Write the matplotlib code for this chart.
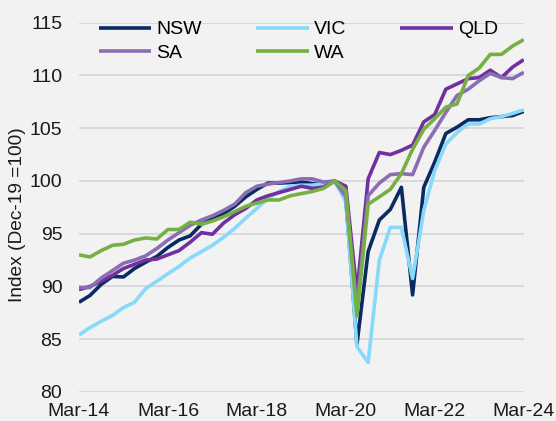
import pandas as pd
import matplotlib
matplotlib.use("Agg")
import matplotlib.pyplot as plt

plt.rcParams['font.family'] = ['Liberation Sans', 'DejaVu Sans']

# quarterly index, Dec-19 = 100
quarters = pd.date_range("2014-03-31", "2024-03-31", freq="QE")

nsw = [88.5, 89.15, 90.2, 90.95, 90.9, 91.7, 92.3, 92.85, 93.7, 94.4,
       94.8, 95.9, 96.4, 96.9, 97.6, 98.5, 99.2, 99.8, 99.8, 99.85,
       99.9, 99.75, 99.75, 100.0, 98.3, 84.5, 93.3, 96.3, 97.3, 99.4,
       89.2, 99.4, 101.8, 104.5, 105.1, 105.8, 105.8, 106.0, 106.1, 106.2,
       106.6]
vic = [85.4, 86.1, 86.7, 87.25, 88.0, 88.5, 89.8, 90.5, 91.2, 91.9,
       92.7, 93.3, 93.9, 94.65, 95.5, 96.5, 97.4, 98.35, 99.0, 99.5,
       99.6, 99.6, 99.8, 100.0, 98.0, 84.3, 82.8, 92.5, 95.6, 95.6,
       90.75, 97.2, 101.0, 103.5, 104.6, 105.4, 105.4, 105.9, 106.1, 106.4,
       106.75]
qld = [89.7, 90.0, 90.5, 91.05, 91.7, 92.1, 92.5, 92.6, 93.0, 93.4,
       94.2, 95.1, 94.95, 96.0, 96.8, 97.4, 98.2, 98.6, 98.9, 99.2,
       99.5, 99.3, 99.4, 100.0, 99.5, 89.4, 100.2, 102.7, 102.5, 102.9,
       103.4, 105.6, 106.3, 108.7, 109.2, 109.7, 109.8, 110.5, 109.8, 110.8,
       111.5]
sa = [89.9, 89.9, 90.8, 91.5, 92.2, 92.5, 92.9, 93.6, 94.4, 95.1,
      95.8, 96.3, 96.7, 97.2, 97.8, 98.9, 99.5, 99.7, 99.85, 100.0,
      100.2, 100.2, 99.9, 100.0, 98.5, 88.0, 98.6, 99.8, 100.6, 100.7,
      100.6, 103.2, 104.8, 106.5, 108.1, 108.7, 109.5, 110.2, 109.8, 109.7,
      110.3]
wa = [93.0, 92.8, 93.4, 93.9, 94.0, 94.4, 94.6, 94.5, 95.4, 95.4,
      96.1, 95.9, 96.2, 96.6, 97.1, 97.6, 97.9, 98.2, 98.2, 98.6,
      98.8, 99.0, 99.3, 100.0, 99.1, 87.2, 97.8, 98.5, 99.2, 100.7,
      103.0, 104.9, 105.9, 107.0, 107.3, 110.0, 110.7, 112.0, 112.0, 112.8,
      113.4]

states = ['NSW', 'VIC', 'QLD', 'SA', 'WA']
colors = {'NSW': '#0a2a62', 'VIC': '#86d9fb', 'QLD': '#7030a0',
          'SA': '#8b6db3', 'WA': '#76b043'}
series = {'NSW': nsw, 'VIC': vic, 'QLD': qld, 'SA': sa, 'WA': wa}

bg = '#f2f2f2'
fig = plt.figure(figsize=(5.56, 4.21), dpi=100, facecolor=bg)
ax = fig.add_axes([0.142, 0.069, 0.8, 0.877], facecolor=bg)

lines = {}
for s in states:
    lines[s], = ax.plot(quarters, series[s], color=colors[s], lw=2.6,
                        label=s, solid_capstyle='butt')

ax.set_xlim(quarters[0], quarters[-1])
ax.set_ylim(80, 115)
ax.set_yticks(range(80, 116, 5))
tick_pos = quarters[::8]
ax.set_xticks(tick_pos)
ax.set_xticklabels([d.strftime('Mar-%y') for d in tick_pos])
ax.tick_params(axis='both', length=0, labelsize=14, colors='#1a1a1a')
ax.tick_params(axis='y', pad=12)
ax.tick_params(axis='x', pad=8)
ax.grid(axis='y', color='#d9d9d9', lw=1.4)
ax.set_axisbelow(True)
for sp in ax.spines.values():
    sp.set_visible(False)
ax.set_ylabel('Index (Dec-19 =100)', fontsize=13.8, color='#1a1a1a')
ax.yaxis.set_label_coords(-0.118, 0.48)

# column-wise fill: NSW/SA, VIC/WA, QLD
order = ['NSW', 'SA', 'VIC', 'WA', 'QLD']
ax.legend([lines[s] for s in order], order, ncol=3, loc='upper left',
          bbox_to_anchor=(0.045, 1.005), frameon=False, fontsize=14,
          handlelength=2.7, handletextpad=0.25, columnspacing=2.8,
          labelspacing=0.3, borderpad=0, borderaxespad=0)

fig.savefig('out.png', dpi=100, facecolor=bg)
